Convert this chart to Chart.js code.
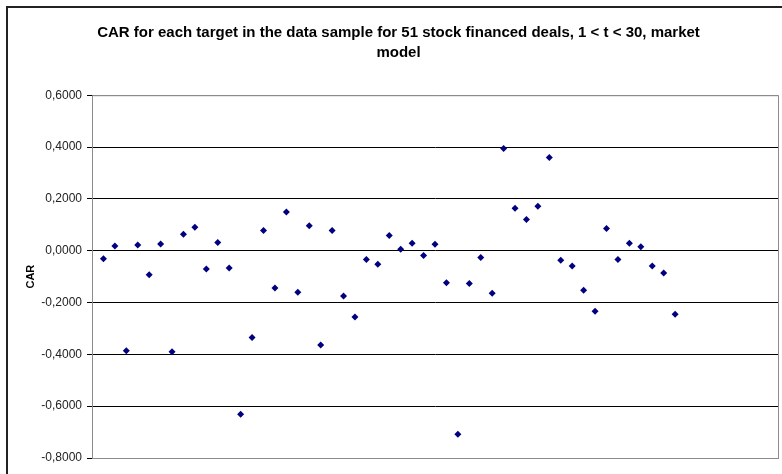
<!DOCTYPE html>
<html>
<head>
<meta charset="utf-8">
<script src="https://cdn.jsdelivr.net/npm/chart.js@4/dist/chart.umd.min.js"></script>
<style>
html, body { margin: 0; padding: 0; background: #fff; }
#wrap { position: relative; width: 782px; height: 474px; }
#frame { position: absolute; left: 6px; top: 6px; right: -10px; bottom: -10px; border-left: 2px solid #222; border-top: 2px solid #222; }
canvas { position: absolute; left: 0; top: 0; }
</style>
</head>
<body>
<div id="wrap">
<div id="frame"></div>
<canvas id="myChart" width="782" height="474"></canvas>
</div>
<script>
// CAR for each target deal (1..51)
const dealNo = [];
for (let i = 1; i <= 51; i++) dealNo.push(i);

const carValues = [
  -0.031, 0.018, -0.386, 0.022, -0.093, 0.026, -0.390, 0.063, 0.090, -0.071,
  0.032, -0.067, -0.631, -0.335, 0.078, -0.144, 0.149, -0.160, 0.096, -0.364,
  0.078, -0.175, -0.256, -0.034, -0.052, 0.059, 0.006, 0.029, -0.019, 0.025,
  -0.124, -0.708, -0.127, -0.026, -0.164, 0.394, 0.164, 0.120, 0.171, 0.360,
  -0.037, -0.059, -0.153, -0.234, 0.086, -0.034, 0.029, 0.015, -0.059, -0.086,
  -0.245
];

const yTicks = [0.6, 0.4, 0.2, 0, -0.2, -0.4, -0.6, -0.8];

const titleLines = [
  "CAR for each target in the data sample for 51 stock financed deals, 1 < t < 30, market",
  "model"
];

const points = dealNo.map((x, i) => ({ x: x, y: carValues[i] }));

// grey border round the plot area
const plotBorder = {
  id: "plotBorder",
  afterDraw(chart) {
    const a = chart.chartArea;
    const c = chart.ctx;
    c.save();
    c.strokeStyle = "#8c8c8c";
    c.lineWidth = 1;
    c.strokeRect(a.left + 0.5, a.top + 0.5, a.right - a.left, a.bottom - a.top);
    c.restore();
  }
};

const ctx = document.getElementById("myChart");

let chart = new Chart(ctx, {
  type: "scatter",
  data: {
    datasets: [
      {
        label: "CAR",
        data: points,
        pointStyle: "rectRot",
        pointRadius: 3.5,
        backgroundColor: "#000080",
        borderColor: "#000080",
        borderWidth: 0
      }
    ]
  },
  options: {
    responsive: false,
    animation: false,
    layout: { padding: { left: 18, right: 3, top: 0, bottom: 16 } },
    plugins: {
      legend: { display: false },
      tooltip: { enabled: false },
      title: {
        display: true,
        text: titleLines,
        color: "#000",
        font: { family: "Liberation Sans, Arial, sans-serif", size: 15, weight: "bold", lineHeight: 1.34 },
        padding: { top: 23, bottom: 32 }
      }
    },
    scales: {
      x: {
        type: "linear",
        min: 0,
        max: 60,
        ticks: { display: false },
        grid: { display: false, drawTicks: false },
        border: { display: true, color: "#8c8c8c" }
      },
      y: {
        min: -0.8,
        max: 0.6,
        afterBuildTicks(axis) {
          axis.ticks = yTicks.map(v => ({ value: v }));
        },
        afterFit(axis) {
          axis.width = 74;
        },
        ticks: {
          color: "#222",
          padding: 5,
          font: { family: "Liberation Sans, Arial, sans-serif", size: 12 },
          callback: v => (v < 0 ? "-" : "") + Math.abs(v).toFixed(4).replace(".", ",")
        },
        grid: {
          tickLength: 5,
          lineWidth: 1,
          color: c => (c.tick && (c.tick.value === 0.6 || c.tick.value === -0.8)) ? "#8c8c8c" : "#000",
          tickColor: "#000"
        },
        border: { display: true, color: "#000" },
        title: {
          display: true,
          text: "CAR",
          color: "#000",
          padding: 6,
          font: { family: "Liberation Sans, Arial, sans-serif", size: 11, weight: "bold" }
        }
      }
    }
  },
  plugins: [plotBorder]
});
</script>
</body>
</html>
